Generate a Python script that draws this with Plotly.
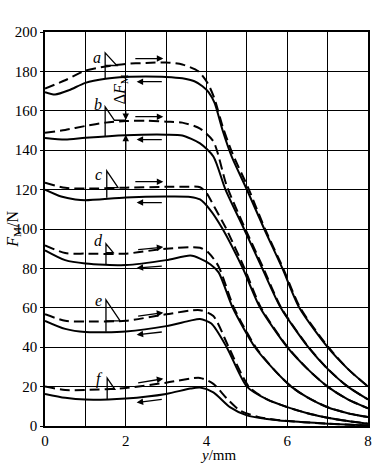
import plotly.graph_objects as go

# ---------------- data ----------------
a_solid_x = [0, 0.25, 0.6, 1, 1.5, 2, 2.5, 3, 3.4, 3.7, 3.9, 4.05, 4.2, 4.4, 4.62, 5.0, 5.43, 5.88, 6.3, 7.0, 7.5, 8.0]
a_solid_y = [169.5, 168.3, 170.5, 174.2, 176.3, 177.2, 177.4, 177.2, 176.5, 175, 172.5, 169.5, 164, 150, 137, 120, 100, 80, 60, 40, 29, 20]
a_dash_x = [0, 0.5, 1, 1.5, 2, 2.5, 3, 3.4, 3.8, 4.03, 4.2, 4.4, 4.65, 5.03, 5.45, 5.9, 6.32, 7.02, 7.5, 8.0]
a_dash_y = [171.3, 175.5, 180.4, 182.5, 183.8, 184.3, 184.5, 183.5, 180, 174, 166, 152, 138, 121, 100, 80, 60, 40, 29, 20]

b_solid_x = [0, 0.5, 1, 2, 3, 3.4, 3.84, 4.17, 4.47, 4.93, 5.38, 5.84, 6.52, 7.0, 7.5, 8.0]
b_solid_y = [146.2, 145.4, 146.3, 147.6, 147.9, 147.5, 143.5, 136.8, 120, 100, 80, 60, 40, 29, 20, 13.5]
b_dash_x = [0, 0.5, 1, 1.5, 2, 2.5, 3, 3.4, 3.84, 4.17, 4.5, 4.95, 5.4, 5.85, 6.53, 7.0, 7.5, 8.0]
b_dash_y = [148.8, 150.3, 152.3, 154, 154.8, 155, 154.5, 154, 151, 144.5, 122, 100.5, 80.5, 60, 40, 29, 20, 13.5]

c_solid_x = [0, 0.4, 0.75, 1, 2, 3, 3.6, 3.84, 4.08, 4.4, 4.9, 5.33, 6.0, 6.5, 7.0, 7.5, 8.0]
c_solid_y = [120, 116.5, 115, 114.6, 116, 116.5, 116.3, 115, 110, 100, 80, 60, 40, 29, 20, 13.5, 9]
c_dash_x = [0, 0.5, 1, 2, 3, 3.5, 3.84, 4.0, 4.2, 4.48, 4.93, 5.35, 6.01, 6.5, 7.0, 7.5, 8.0]
c_dash_y = [123.5, 120.9, 120.5, 121, 121.4, 121.5, 121.2, 118.3, 111, 100.5, 80.5, 60, 40, 29, 20, 13.5, 9]

d_solid_x = [0, 0.5, 1, 2, 3, 3.6, 3.84, 4.1, 4.3, 4.65, 5.2, 5.7, 6.1, 6.5, 7.0, 7.5, 8.0]
d_solid_y = [89.2, 84.2, 82.5, 81.7, 84.2, 86.5, 85, 82, 78, 60, 40, 28, 20, 14.5, 9.5, 6.5, 4.5]
d_dash_x = [0, 0.5, 1, 2, 3, 3.84, 4.05, 4.3, 4.68, 5.22, 5.7, 6.1, 6.5, 7.0, 7.5, 8.0]
d_dash_y = [91.7, 87.8, 87.5, 87.5, 90, 90.5, 88, 81, 60, 40, 28, 20, 14.5, 9.5, 6.5, 4.5]

e_solid_x = [0, 0.5, 1, 2, 3, 3.6, 3.84, 4.12, 4.5, 5.0, 5.5, 6.0, 6.5, 7.0, 7.5, 8.0]
e_solid_y = [53.4, 49.3, 47.7, 48, 50.7, 53.5, 54.3, 52, 40, 20, 13.5, 9.6, 6.5, 4.2, 2.5, 1.2]
e_dash_x = [0, 0.5, 1, 2, 3, 3.84, 4.17, 4.55, 5.05, 5.5, 6.0, 6.5, 7.0, 7.5, 8.0]
e_dash_y = [56.7, 53.4, 53, 53.4, 56.7, 58.8, 55.8, 40, 20, 13.5, 9.6, 6.5, 4.2, 2.5, 1.2]

f_solid_x = [0, 0.5, 1, 2, 3, 3.6, 3.84, 4.17, 4.58, 5.0, 5.5, 6.0, 7.0, 8.0]
f_solid_y = [16.3, 14.3, 13.4, 14, 16.3, 19, 19.5, 17.1, 9.6, 5.4, 3.6, 2.5, 1.2, 0.3]
f_dash_x = [0, 0.5, 1, 2, 3, 3.84, 4.17, 4.5, 4.83, 5.3, 5.82, 7.0, 8.0]
f_dash_y = [20, 18.3, 18.3, 19.3, 22, 24.4, 21.4, 14, 7.9, 4.5, 2.9, 1.2, 0.3]

curve_labels = ["a", "b", "c", "d", "e", "f"]
label_x = [1.28, 1.32, 1.32, 1.32, 1.32, 1.36]
label_y = [187, 163, 127.5, 94, 63.5, 24]

# flag leaders: pole x, pole bottom, pole top, tip x, tip y
flag_pole_x = [1.49, 1.49, 1.53, 1.51, 1.51, 1.54]
flag_bottom = [176.3, 147.2, 115.8, 81.8, 47.8, 13.6]
flag_top = [189.4, 162, 129.5, 92.5, 64, 24.3]
flag_tip_x = [1.78, 1.72, 1.81, 1.69, 1.86, 1.73]
flag_tip_y = [183, 155.2, 121, 88, 53.4, 18.6]

# direction arrows (forward over dashed, return under solid)
fwd_x0 = [2.2, 2.2, 2.2, 2.27, 2.27, 2.27]
fwd_x1 = [2.93, 2.93, 2.93, 2.93, 2.93, 2.93]
fwd_y0 = [186.5, 157, 124, 89.5, 55.7, 21.8]
fwd_y1 = [186.5, 157, 124, 90.8, 57.5, 24.0]
ret_x0 = [2.93, 2.93, 2.93, 2.93, 2.93, 2.93]
ret_x1 = [2.27, 2.27, 2.27, 2.27, 2.27, 2.27]
ret_y0 = [174.8, 145.4, 113.4, 81.2, 47.8, 13.6]
ret_y1 = [174.8, 145.4, 113.4, 80.2, 46.3, 11.9]

solids = [(a_solid_x, a_solid_y), (b_solid_x, b_solid_y), (c_solid_x, c_solid_y),
          (d_solid_x, d_solid_y), (e_solid_x, e_solid_y), (f_solid_x, f_solid_y)]
dashes = [(a_dash_x, a_dash_y), (b_dash_x, b_dash_y), (c_dash_x, c_dash_y),
          (d_dash_x, d_dash_y), (e_dash_x, e_dash_y), (f_dash_x, f_dash_y)]

SERIF = "Liberation Serif, Times New Roman, serif"

fig = go.Figure()
for (sx, sy) in solids:
    fig.add_trace(go.Scatter(x=sx, y=sy, mode="lines",
                             line=dict(color="black", width=2, shape="spline", smoothing=0.7),
                             showlegend=False, hoverinfo="skip", cliponaxis=False))
for (dx, dy) in dashes:
    fig.add_trace(go.Scatter(x=dx, y=dy, mode="lines",
                             line=dict(color="black", width=2, dash="10px,5px", shape="spline", smoothing=0.7),
                             showlegend=False, hoverinfo="skip", cliponaxis=False))

shapes = []
annotations = []
for i, lab in enumerate(curve_labels):
    px = flag_pole_x[i]
    path = (f"M {px},{flag_bottom[i]} L {px},{flag_top[i]} "
            f"L {flag_tip_x[i]},{flag_tip_y[i]} L {px},{flag_tip_y[i]}")
    if lab == "b":
        path = (f"M {px},{flag_bottom[i]} L {px},{flag_top[i]} "
                f"L {flag_tip_x[i]},{flag_tip_y[i]} L 2.0,{flag_tip_y[i]}")
    shapes.append(dict(type="path", path=path, xref="x", yref="y",
                       line=dict(color="black", width=1.3)))
    annotations.append(dict(x=label_x[i], y=label_y[i], xref="x", yref="y",
                            text=f"<i>{lab}</i>", showarrow=False,
                            font=dict(family=SERIF, size=16, color="black")))
    annotations.append(dict(x=fwd_x1[i], y=fwd_y1[i], ax=fwd_x0[i], ay=fwd_y0[i],
                            xref="x", yref="y", axref="x", ayref="y", text="",
                            showarrow=True, arrowhead=2, arrowsize=1, arrowwidth=1.3,
                            arrowcolor="black"))
    annotations.append(dict(x=ret_x1[i], y=ret_y1[i], ax=ret_x0[i], ay=ret_y0[i],
                            xref="x", yref="y", axref="x", ayref="y", text="",
                            showarrow=True, arrowhead=2, arrowsize=1, arrowwidth=1.3,
                            arrowcolor="black"))

# Delta F_M indicator
annotations.append(dict(x=2.0, y=155.3, ax=2.0, ay=160.5, xref="x", yref="y", axref="x", ayref="y",
                        text="", showarrow=True, arrowhead=2, arrowsize=1, arrowwidth=1.3, arrowcolor="black"))
annotations.append(dict(x=2.0, y=147.8, ax=2.0, ay=139, xref="x", yref="y", axref="x", ayref="y",
                        text="", showarrow=True, arrowhead=2, arrowsize=1, arrowwidth=1.3, arrowcolor="black"))
annotations.append(dict(x=1.86, y=171, xref="x", yref="y", text="Δ<i>F</i><sub>M</sub>",
                        textangle=-90, showarrow=False, xanchor="center", yanchor="middle",
                        font=dict(family=SERIF, size=16, color="black")))

# axis titles
annotations.append(dict(x=4.3, y=-0.074, xref="x", yref="paper", text="<i>y</i>/mm",
                        showarrow=False, xanchor="center", yanchor="middle",
                        font=dict(family=SERIF, size=15, color="black")))
annotations.append(dict(x=-0.1, y=100, xref="paper", yref="y", text="<i>F</i><sub>M</sub>/N",
                        textangle=-90, showarrow=False, xanchor="center", yanchor="middle",
                        font=dict(family=SERIF, size=16, color="black")))

x_tickvals = [0, 1, 2, 3, 4, 5, 6, 7, 8]
x_ticktext = ["0", "", "2", "", "4", "", "6", "", "8"]
y_tickvals = [0, 20, 40, 60, 80, 100, 120, 140, 160, 180, 200]

fig.update_layout(
    width=374, height=473,
    margin=dict(l=45, r=6, t=32, b=47, autoexpand=False),
    paper_bgcolor="white", plot_bgcolor="white",
    hovermode=False,
    shapes=shapes, annotations=annotations,
    xaxis=dict(range=[0, 8], tickvals=x_tickvals, ticktext=x_ticktext, automargin=False,
               showgrid=True, gridcolor="black", gridwidth=1.3,
               showline=True, linecolor="black", linewidth=1.5, mirror=True,
               ticks="", zeroline=False, showspikes=False,
               tickfont=dict(family=SERIF, size=15, color="black")),
    yaxis=dict(range=[0, 200], tickvals=y_tickvals, automargin=False,
               showgrid=True, gridcolor="black", gridwidth=1.3,
               showline=True, linecolor="black", linewidth=1.5, mirror=True,
               ticks="outside", ticklen=3, tickcolor="black", zeroline=False, showspikes=False,
               tickfont=dict(family=SERIF, size=15, color="black")),
)

# remove the default page margin so the figure sits at the window's top-left corner
fig.write_html("out.html",
               config={"displayModeBar": False},
               post_script="document.body.style.margin='0';document.body.style.overflow='hidden';")
